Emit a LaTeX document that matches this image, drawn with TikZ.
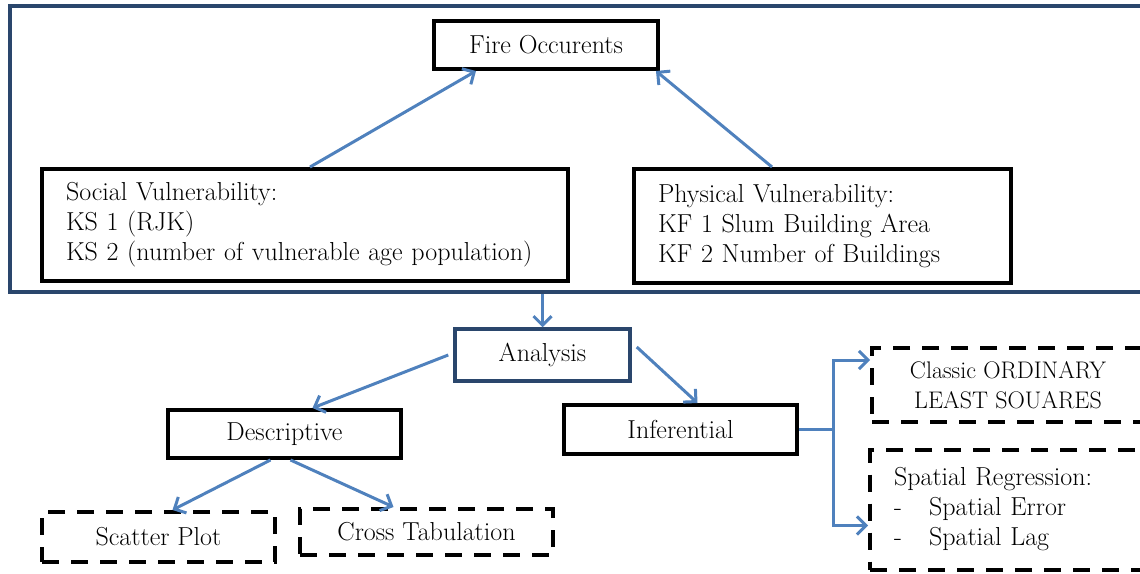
\documentclass[tikz,border=0pt]{standalone}
\usepackage{fontspec}
\usepackage[RGB]{xcolor}
\usetikzlibrary{arrows.meta}
\definecolor{frameblue}{RGB}{42,70,108}
\definecolor{flowblue}{RGB}{79,129,189}
\newcommand{\drawflow}{\draw[flow]}
\newcommand{\bullitem}[1]{\makebox[35pt][l]{-}#1}
\tikzset{
  box/.style={draw, line width=4pt, inner sep=0pt, font=\fontsize{26}{30}\selectfont},
  dashbox/.style={box, dash pattern=on 17pt off 12pt},
  listbox/.style={box, align=left, inner xsep=24pt},
  flow/.style={draw=flowblue, line width=3pt, -{Straight Barb[length=9pt,width=18pt]}}
}
\begin{document}
\begin{tikzpicture}[x=1pt,y=-1pt]
\useasboundingbox (0,0) rectangle (1140,573);
\node[draw=frameblue, line width=4pt, inner sep=0pt, minimum width=1160pt, minimum height=286pt] (frame) at (590,149) {};
\node[box, minimum width=224pt, minimum height=48pt] (fire) at (546,45) {Fire Occurents};
\node[listbox, text width=478pt, minimum height=112pt] (social) at (305,225)
  {Social Vulnerability:\\KS 1 (RJK)\\KS 2 (number of vulnerable age population)};
\node[listbox, text width=329pt, minimum height=114pt] (physical) at (822.5,226)
  {Physical Vulnerability:\\KF 1 Slum Building Area\\KF 2 Number of Buildings};
\node[box, draw=frameblue, line width=3.5pt, minimum width=175pt, minimum height=52pt] (analysis) at (542.5,355) {Analysis};
\node[box, minimum width=233pt, minimum height=48pt] (descriptive) at (284.5,434) {Descriptive};
\node[box, minimum width=233pt, minimum height=49pt] (inferential) at (680.5,429.5) {Inferential};
\node[dashbox, minimum width=233pt, minimum height=50pt] (scatter) at (158.5,537) {Scatter Plot};
\node[dashbox, minimum width=253pt, minimum height=46pt] (cross) at (426.5,532) {Cross Tabulation};
\node[dashbox, align=center, font=\fontsize{24}{30}\selectfont, minimum width=272pt, minimum height=74pt] (classic) at (1008,385)
  {Classic ORDINARY\\LEAST SOUARES};
\node[dashbox, listbox, text width=242pt, minimum height=120pt] (spatial) at (1015,509.5)
  {Spatial Regression:\\\bullitem{Spatial Error}\\\bullitem{Spatial Lag}};
\coordinate (split) at ([xshift=34pt]inferential.east);
\drawflow ([xshift=5pt]social.north) -- ([xshift=44pt]fire.south west);
\drawflow ([xshift=140pt]physical.north west) -- ([xshift=-4pt]fire.south east);
\drawflow (analysis.north |- frame.south) -- (analysis.north);
\drawflow ([xshift=-5pt]analysis.west) -- ([xshift=28pt]descriptive.north);
\drawflow ([xshift=5pt,yshift=8pt]analysis.east) -- ([xshift=17pt]inferential.north);
\drawflow ([xshift=-14pt]descriptive.south) -- ([xshift=14pt]scatter.north);
\drawflow ([xshift=6pt]descriptive.south) -- ([xshift=-33pt]cross.north);
\draw[flowblue, line width=3pt] (inferential.east) -- (split);
\drawflow (split) |- ([yshift=25pt]classic.west);
\drawflow (split) |- ([yshift=-16pt]spatial.west);
\end{tikzpicture}
\end{document}
